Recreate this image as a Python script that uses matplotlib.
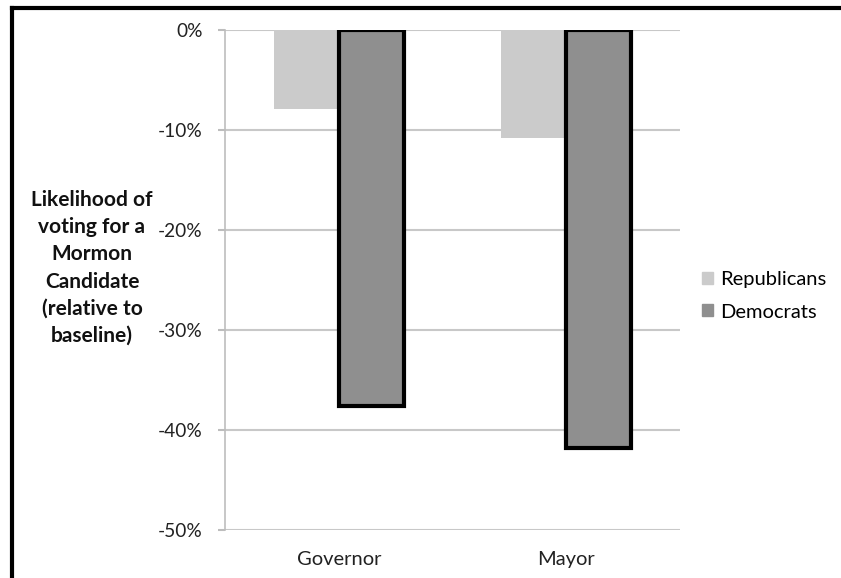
import matplotlib.pyplot as plt
import numpy as np
from matplotlib.lines import Line2D
from matplotlib.patches import Patch

# values (percent, relative to baseline)
offices = ["Governor", "Mayor"]
republicans = [-7.9, -10.8]
democrats = [-37.6, -41.8]
yticks = [0, -10, -20, -30, -40, -50]

plt.rcParams["font.family"] = ["Lato", "DejaVu Sans"]

W, H = 841, 578
fig = plt.figure(figsize=(W / 100, H / 100), dpi=100)
ax = fig.add_axes([225 / W, 1 - 530 / H, (680 - 225) / W, 500 / H])

x = np.arange(len(offices))
width = 0.286
ax.bar(x - width / 2, republicans, width, color="#cbcbcb", label="Republicans", zorder=2)
ax.bar(x + width / 2, democrats, width, color="#8f8f8f", edgecolor="black",
       linewidth=3, label="Democrats", zorder=3)

ax.set_xlim(-0.5, 1.5)
ax.set_ylim(-50, 0)
ax.set_yticks(yticks)
ax.set_yticklabels([f"{v}%" for v in yticks], fontsize=13.8, color="#222222")
ax.set_xticks(x)
ax.set_xticklabels(offices, fontsize=14.5, color="#222222")
ax.tick_params(axis="x", length=0, pad=15)
ax.tick_params(axis="y", length=5, width=1.5, color="#bdbdbd", pad=11)
ax.yaxis.grid(True, color="#c8c8c8", linewidth=1.5, zorder=0)
ax.set_axisbelow(True)
for side in ["top", "right", "bottom"]:
    ax.spines[side].set_visible(False)
ax.spines["left"].set_color("#bdbdbd")
ax.spines["left"].set_linewidth(1.2)

fig.text(92 / W, 1 - 268 / H,
         "Likelihood of\nvoting for a\nMormon\nCandidate\n(relative to\nbaseline)",
         ha="center", va="center", fontsize=15, fontweight="bold",
         linespacing=1.45, color="#111111")

handles = [Patch(color="#cbcbcb"), Patch(color="#8f8f8f")]
fig.legend(handles, ["Republicans", "Democrats"], loc="center left",
           bbox_to_anchor=(684 / W, 1 - 296 / H), frameon=False, fontsize=14.5,
           handlelength=0.55, handleheight=0.55, handletextpad=0.35,
           labelspacing=0.75)

# black frame on the top and left edges
fig.add_artist(Line2D([12 / W, 12 / W], [0, 1 - 8 / H], color="black", linewidth=3))
fig.add_artist(Line2D([12 / W, 1], [1 - 8 / H, 1 - 8 / H], color="black", linewidth=3))

fig.savefig("out.png", dpi=100)
